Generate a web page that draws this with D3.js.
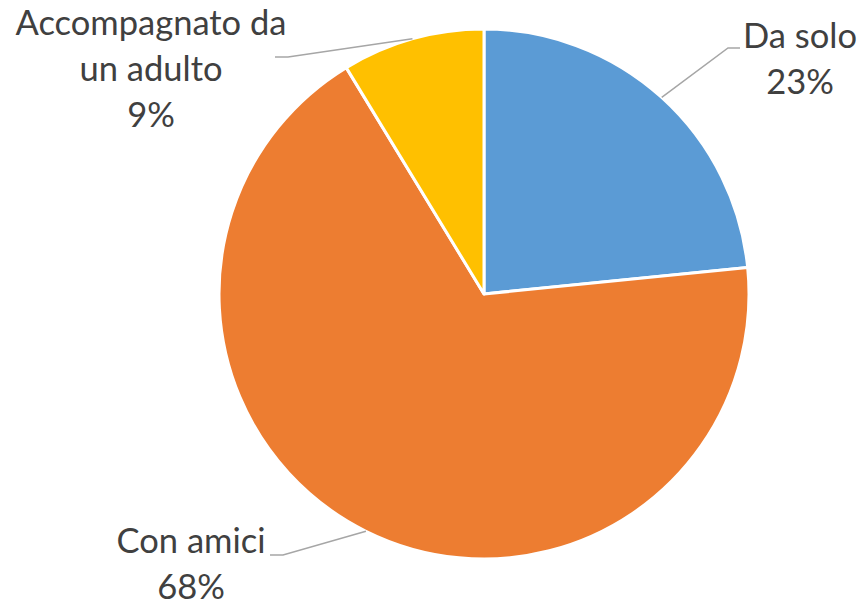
<!DOCTYPE html>
<html>
<head>
<meta charset="utf-8">
<script src="https://cdn.jsdelivr.net/npm/d3@7"></script>
<style>
  html, body { margin: 0; padding: 0; background: #ffffff; }
</style>
</head>
<body>
<script>
const categories = ['Da solo', 'Con amici', 'Accompagnato da un adulto'];
const values = [23.4, 67.9, 8.7];
const colors = ['#5b9bd5', '#ed7d31', '#ffc000'];
const labelLines = [['Da solo'], ['Con amici'], ['Accompagnato da', 'un adulto']];

const width = 863;
const height = 604;
const cx = 484;
const cy = 294;
const radius = 265;

const svg = d3.select('body')
  .append('svg')
  .attr('width', width)
  .attr('height', height);

const data = categories.map((c, i) => ({ name: c, value: values[i], color: colors[i], lines: labelLines[i] }));

const pie = d3.pie()
  .sort(null)
  .value(d => d.value);

const arc = d3.arc()
  .innerRadius(0)
  .outerRadius(radius);

const arcs = pie(data);

const chart = svg.append('g')
  .attr('transform', `translate(${cx},${cy})`);

chart.selectAll('path.slice')
  .data(arcs)
  .enter()
  .append('path')
  .attr('class', 'slice')
  .attr('d', arc)
  .attr('fill', d => d.data.color)
  .attr('stroke', '#ffffff')
  .attr('stroke-width', 3)
  .attr('stroke-linejoin', 'round');

// label layout: text centre, first baseline, and the elbow of the leader line
const labelPos = [
  { x: 800, y: 48, elbow: [728, 48], end: [740, 48] },
  { x: 191, y: 553, elbow: [283, 555], end: [270, 555] },
  { x: 151, y: 35, elbow: [288, 57], end: [275, 57] }
];

const lineGap = 46;

arcs.forEach((d, i) => {
  const mid = (d.startAngle + d.endAngle) / 2;
  const sx = cx + radius * Math.sin(mid);
  const sy = cy - radius * Math.cos(mid);
  const p = labelPos[i];

  svg.append('polyline')
    .attr('points', [[sx, sy], p.elbow, p.end].map(q => q.join(',')).join(' '))
    .attr('fill', 'none')
    .attr('stroke', '#a6a6a6')
    .attr('stroke-width', 1.5);

  const text = svg.append('text')
    .attr('x', p.x)
    .attr('y', p.y)
    .attr('text-anchor', 'middle')
    .attr('font-family', 'Lato, "Noto Sans", sans-serif')
    .attr('font-size', 34.5)
    .attr('fill', '#404040');

  const lines = d.data.lines.concat([Math.round(d.data.value) + '%']);
  lines.forEach((ln, j) => {
    text.append('tspan')
      .attr('x', p.x)
      .attr('dy', j === 0 ? 0 : lineGap)
      .text(ln);
  });
});
</script>
</body>
</html>
